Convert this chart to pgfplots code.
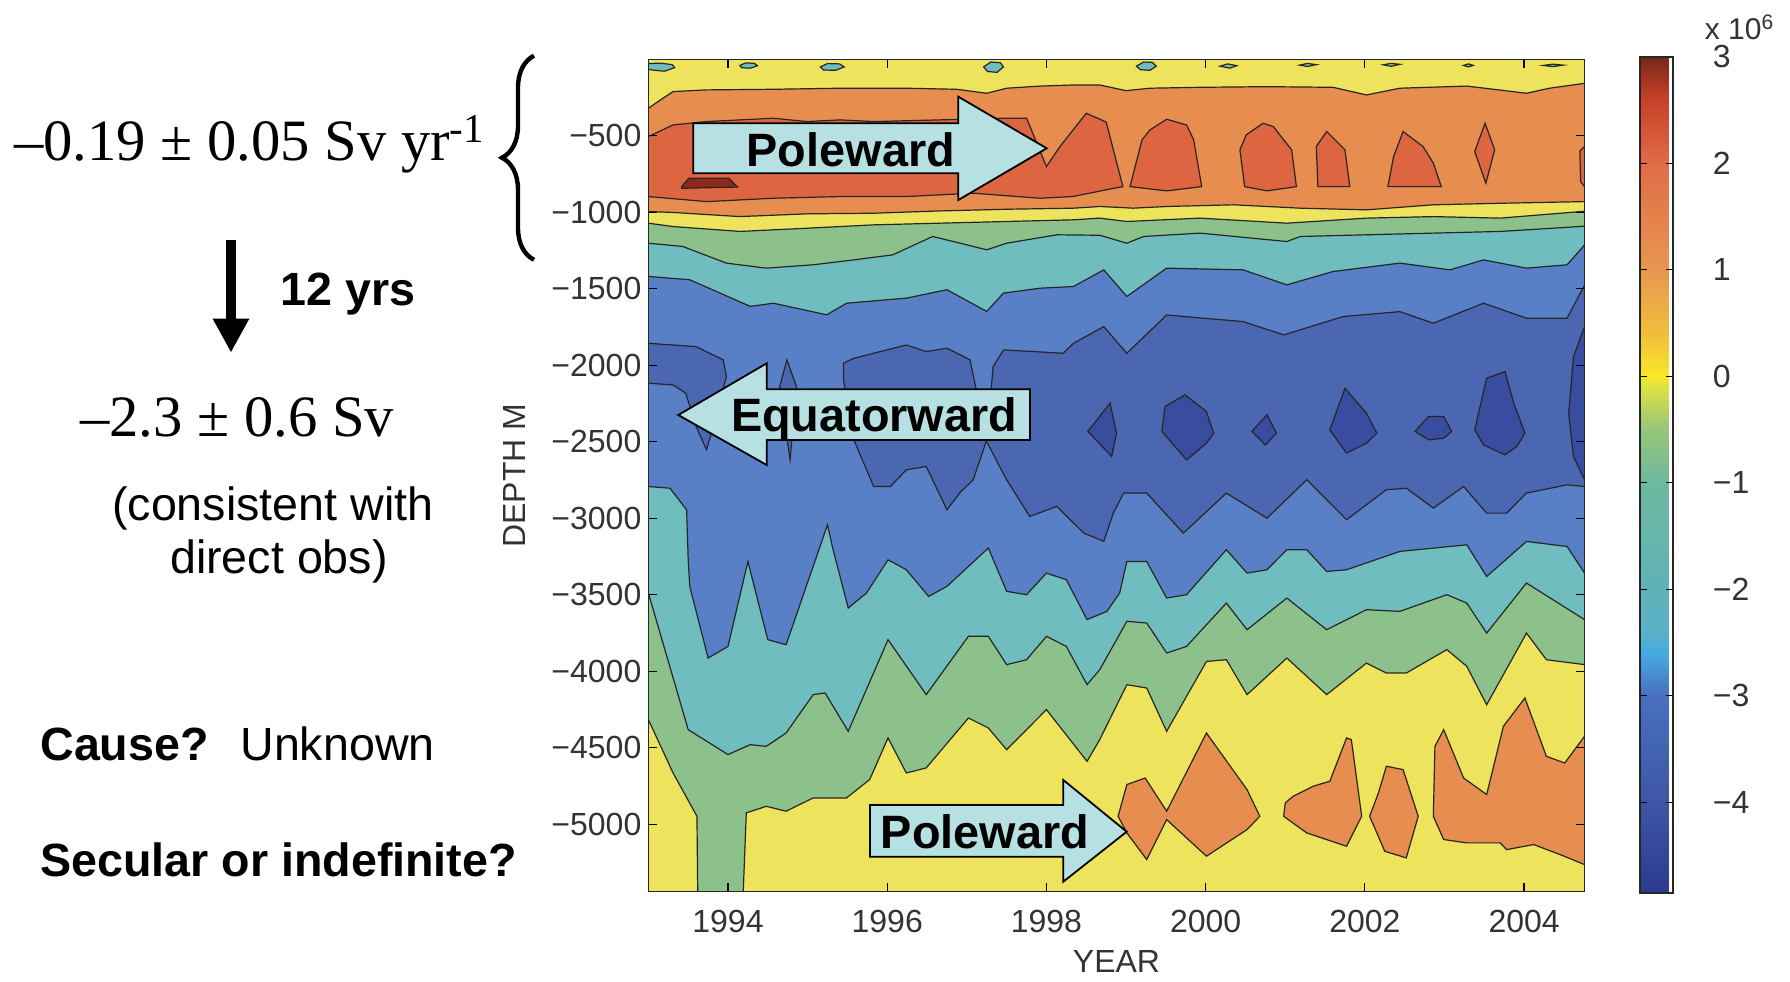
\documentclass[border=0pt]{standalone}
\usepackage{pgfplots}
\pgfplotsset{compat=1.18}
\usepackage{fontspec}
\setmainfont{Liberation Sans}
\newfontfamily\tnr{Liberation Serif}
\usetikzlibrary{decorations.pathreplacing, arrows.meta}

\definecolor{cYel}{RGB}{237,227,92}
\definecolor{cOra}{RGB}{231,141,79}
\definecolor{cRed}{RGB}{221,101,66}
\definecolor{cDRed}{RGB}{139,42,26}
\definecolor{cGrn}{RGB}{141,193,139}
\definecolor{cTeal}{RGB}{111,189,190}
\definecolor{cBlu}{RGB}{89,128,198}
\definecolor{cDBlu}{RGB}{75,103,178}
\definecolor{cDDBlu}{RGB}{56,76,160}
\definecolor{cArr}{RGB}{183,224,227}

\pgfplotsset{band/.style={fill=#1, draw=black!85, line width=0.6pt, mark=none}}

\begin{document}
\begin{tikzpicture}
\useasboundingbox (-324.2pt,-44.65pt) rectangle (570.8pt,445.85pt);
\begin{axis}[
  at={(0pt,0pt)}, anchor=south west,
  scale only axis, width=468.1pt, height=416.2pt,
  xmin=1993, xmax=2004.76, ymin=-5440, ymax=0,
  axis on top,
  xtick={1994,1996,1998,2000,2002,2004},
  xticklabels={1994,1996,1998,2000,2002,2004},
  ytick={-5000,-4500,-4000,-3500,-3000,-2500,-2000,-1500,-1000,-500},
  yticklabels={−5000,−4500,−4000,−3500,−3000,−2500,−2000,−1500,−1000,−500},
  tick align=inside, major tick length=4.5pt,
  every tick/.style={black, line width=0.6pt},
  axis line style={black!85, line width=0.75pt},
  ticklabel style={font=\fontsize{16}{18}\selectfont, text=black!80},
  xticklabel style={yshift=-5.5pt},
  xlabel={YEAR}, ylabel={DEPTH M},
  xlabel style={font=\fontsize{16}{18}\selectfont, text=black!80, at={(axis description cs:0.5,-0.0834)}, anchor=center},
  ylabel style={font=\fontsize{16}{18}\selectfont, text=black!80, at={(axis description cs:-0.1425,0.5)}, anchor=center},
  colorbar,
  colormap={refmap}{rgb255(0pt)=(44,58,140); rgb255(85pt)=(62,86,166); rgb255(185pt)=(72,112,190); rgb255(225pt)=(70,170,225); rgb255(245pt)=(90,178,200); rgb255(285pt)=(96,178,184); rgb255(385pt)=(110,184,160); rgb255(435pt)=(150,198,120); rgb255(475pt)=(220,225,70); rgb255(485pt)=(248,232,40); rgb255(525pt)=(240,190,60); rgb255(585pt)=(232,150,80); rgb255(685pt)=(224,108,72); rgb255(745pt)=(200,64,40); rgb255(785pt)=(120,40,24)},
  point meta min=-4.85, point meta max=3,
  colorbar style={
    at={(parent axis.north east)}, anchor=north west, xshift=19.2pt, yshift=1.2pt,
    width=16.55pt, height=418pt, scale only axis,
    ytick={-4,-3,-2,-1,0,1,2,3}, yticklabels={−4,−3,−2,−1,0,1,2,3},
    tick align=inside, major tick length=3.5pt,
    ytick pos=both, yticklabel pos=right,
    every tick/.style={black, line width=0.6pt},
    axis line style={black!85, line width=0.75pt},
    yticklabel style={font=\fontsize{16}{18}\selectfont, text=black!80, xshift=16.3pt},
  },
]
% top yellow background
\addplot[fill=cYel, draw=none] coordinates {(1992.9,100) (2004.9,100) (2004.9,-5500) (1992.9,-5500)} -- cycle;
% small near-surface patches
\addplot[band=cTeal] coordinates {(1992.9,-30) (1993.15,-25) (1993.3,-35) (1993.33,-55) (1993.2,-78) (1993.05,-70) (1992.9,-55)} -- cycle;
\addplot[band=cTeal] coordinates {(1994.15,-40) (1994.22,-24) (1994.33,-26) (1994.37,-42) (1994.28,-58) (1994.17,-55)} -- cycle;
\addplot[band=cTeal] coordinates {(1995.16,-50) (1995.25,-28) (1995.40,-30) (1995.46,-50) (1995.35,-72) (1995.2,-70)} -- cycle;
\addplot[band=cTeal] coordinates {(1997.21,-50) (1997.3,-18) (1997.42,-22) (1997.46,-50) (1997.38,-85) (1997.26,-80)} -- cycle;
\addplot[band=cTeal] coordinates {(1999.13,-45) (1999.22,-18) (1999.33,-20) (1999.38,-45) (1999.3,-72) (1999.18,-68)} -- cycle;
\addplot[band=cGrn] coordinates {(2000.18,-45) (2000.28,-30) (2000.39,-42) (2000.3,-58)} -- cycle;
\addplot[band=cGrn] coordinates {(2001.18,-38) (2001.28,-27) (2001.39,-35) (2001.28,-47)} -- cycle;
\addplot[band=cGrn] coordinates {(2002.23,-36) (2002.33,-27) (2002.44,-33) (2002.33,-46)} -- cycle;
\addplot[band=cGrn] coordinates {(2003.24,-40) (2003.3,-30) (2003.36,-40) (2003.3,-50)} -- cycle;
\addplot[band=cGrn] coordinates {(2004.24,-40) (2004.36,-32) (2004.49,-38) (2004.36,-48)} -- cycle;
% orange below B1
\addplot[band=cOra] coordinates {(1992.9,-320) (1993.0,-320) (1993.15,-266) (1993.31,-211) (1993.73,-200) (1994.57,-196) (1995.41,-189) (1996.24,-189) (1996.87,-196) (1997.25,-222) (1997.5,-189) (1997.92,-175) (1998.33,-168) (1998.67,-168) (1999.0,-205) (1999.30,-189) (1999.93,-183) (2000.77,-179) (2001.6,-183) (2002.02,-233) (2002.44,-189) (2003.28,-175) (2004.03,-222) (2004.32,-189) (2004.76,-157) (2004.9,-157) (2004.9,-5500) (1992.9,-5500)} -- cycle;
% red band and patches
\addplot[band=cRed] coordinates {(1992.9,-505) (1993.0,-505) (1993.31,-429) (1993.73,-407) (1994.57,-385) (1994.99,-407) (1995.41,-396) (1995.83,-407) (1996.66,-396) (1997.50,-385) (1997.75,-385) (1998.0,-701) (1998.17,-570) (1998.5,-353) (1998.75,-410) (1998.96,-832) (1998.75,-853) (1998.33,-897) (1997.92,-908) (1997.08,-875) (1996.24,-897) (1995.41,-897) (1994.57,-908) (1993.73,-930) (1993.0,-897) (1992.9,-897)} -- cycle;
\addplot[band=cRed] coordinates {(1999.05,-832) (1999.20,-527) (1999.30,-462) (1999.51,-392) (1999.76,-429) (1999.85,-527) (1999.95,-832) (1999.51,-860)} -- cycle;
\addplot[band=cRed] coordinates {(2000.49,-832) (2000.43,-592) (2000.51,-494) (2000.72,-418) (2000.85,-440) (2001.08,-592) (2001.14,-832) (2000.77,-860)} -- cycle;
\addplot[band=cRed] coordinates {(2001.41,-832) (2001.39,-570) (2001.52,-472) (2001.75,-592) (2001.81,-832)} -- cycle;
\addplot[band=cRed] coordinates {(2002.29,-832) (2002.36,-636) (2002.48,-472) (2002.73,-570) (2002.86,-679) (2002.96,-832)} -- cycle;
\addplot[band=cRed] coordinates {(2003.51,-418) (2003.63,-592) (2003.52,-810) (2003.38,-603)} -- cycle;
\addplot[band=cRed] coordinates {(2004.70,-600) (2004.76,-570) (2004.9,-570) (2004.9,-832) (2004.76,-832) (2004.71,-800)} -- cycle;
\addplot[band=cDRed] coordinates {(1993.42,-830) (1993.51,-777) (1994.01,-777) (1994.12,-835) (1993.42,-843)} -- cycle;
% yellow below B2
\addplot[band=cYel] coordinates {(1992.9,-995) (1993.0,-995) (1993.31,-1001) (1994.15,-1028) (1994.99,-1010) (1995.83,-1006) (1996.66,-991) (1997.5,-980) (1998.34,-973) (1998.67,-962) (1999.09,-973) (1999.51,-962) (2000.35,-951) (2001.19,-973) (2002.02,-984) (2002.86,-951) (2003.70,-941) (2004.76,-930) (2004.9,-930) (2004.9,-5500) (1992.9,-5500)} -- cycle;
% green below B3
\addplot[band=cGrn] coordinates {(1992.9,-1071) (1993.0,-1071) (1993.31,-1093) (1994.15,-1125) (1994.99,-1104) (1995.83,-1082) (1996.66,-1071) (1997.50,-1060) (1998.34,-1049) (1998.67,-1038) (1999.01,-1060) (1999.93,-1038) (2001.02,-1071) (2002.02,-1038) (2002.86,-1028) (2003.70,-1038) (2004.76,-993) (2004.9,-993) (2004.9,-5500) (1992.9,-5500)} -- cycle;
% teal below B4
\addplot[band=cTeal] coordinates {(1992.9,-1202) (1993.0,-1202) (1993.43,-1223) (1993.98,-1332) (1994.48,-1365) (1995.07,-1343) (1995.58,-1311) (1996.07,-1278) (1996.57,-1158) (1996.83,-1191) (1997.25,-1245) (1997.5,-1202) (1998.13,-1147) (1998.67,-1150) (1999.01,-1202) (1999.22,-1158) (1999.93,-1136) (2001.02,-1191) (2001.19,-1158) (2002.02,-1147) (2002.86,-1136) (2003.70,-1125) (2004.70,-1093) (2004.76,-1090) (2004.9,-1090) (2004.9,-5500) (1992.9,-5500)} -- cycle;
% blue below B5
\addplot[band=cBlu] coordinates {(1992.9,-1419) (1993.0,-1419) (1993.52,-1441) (1993.90,-1528) (1994.28,-1615) (1994.57,-1594) (1995.24,-1670) (1995.49,-1594) (1996.24,-1561) (1996.75,-1506) (1997.25,-1648) (1997.46,-1528) (1997.92,-1496) (1998.34,-1485) (1998.72,-1376) (1999.01,-1550) (1999.51,-1365) (2000.47,-1376) (2001.02,-1474) (2001.60,-1387) (2002.44,-1332) (2003.07,-1376) (2003.49,-1311) (2004.03,-1365) (2004.54,-1343) (2004.76,-1213) (2004.9,-1213) (2004.9,-5500) (1992.9,-5500)} -- cycle;
% darker blue regions
\addplot[band=cDBlu] coordinates {(1992.9,-1856) (1993.0,-1856) (1993.6,-1878) (1993.94,-1964) (1993.98,-2073) (1993.84,-2356) (1993.73,-2552) (1993.6,-2400) (1993.47,-2182) (1993.31,-2128) (1993.0,-2117) (1992.9,-2117)} -- cycle;
\addplot[band=cDBlu] coordinates {(1994.74,-1964) (1994.86,-2139) (1994.78,-2618) (1994.65,-2139)} -- cycle;
\addplot[band=cDBlu] coordinates {(1995.45,-1986) (1995.58,-1954) (1996.24,-1867) (1996.49,-1910) (1996.75,-1888) (1997.04,-1964) (1997.25,-2487) (1997.08,-2748) (1996.91,-2835) (1996.75,-2944) (1996.49,-2661) (1996.24,-2683) (1996.04,-2792) (1995.83,-2792) (1995.58,-2487) (1995.45,-2095)} -- cycle;
\addplot[band=cDBlu] coordinates {(1997.25,-2500) (1997.33,-2008) (1997.46,-1899) (1998.21,-1921) (1998.34,-1856) (1998.72,-1747) (1999.01,-1921) (1999.51,-1671) (2000.47,-1714) (2000.98,-1801) (2001.73,-1681) (2002.44,-1649) (2002.86,-1725) (2003.49,-1594) (2004.03,-1692) (2004.54,-1692) (2004.76,-1475) (2004.9,-1475) (2004.9,-2792) (2004.76,-2792) (2004.54,-2781) (2004.03,-2835) (2003.78,-2966) (2003.53,-2966) (2003.24,-2792) (2002.86,-2933) (2002.52,-2803) (2002.27,-2813) (2001.77,-3009) (2001.27,-2748) (2000.77,-2999) (2000.26,-2835) (1999.72,-3097) (1999.26,-2835) (1998.97,-2835) (1998.84,-2966) (1998.72,-3150) (1998.47,-3097) (1998.13,-2922) (1997.79,-2988) (1997.50,-2748)} -- cycle;
% darkest blue patches
\addplot[band=cDDBlu] coordinates {(1998.8,-2247) (1998.88,-2443) (1998.82,-2596) (1998.52,-2432)} -- cycle;
\addplot[band=cDDBlu] coordinates {(1999.74,-2193) (2000.01,-2302) (2000.10,-2443) (2000.01,-2509) (1999.76,-2618) (1999.45,-2432) (1999.49,-2269)} -- cycle;
\addplot[band=cDDBlu] coordinates {(2000.77,-2324) (2000.89,-2443) (2000.75,-2520) (2000.58,-2432)} -- cycle;
\addplot[band=cDDBlu] coordinates {(2001.75,-2150) (2002.02,-2313) (2002.15,-2443) (2002.02,-2509) (2001.77,-2574) (2001.56,-2422)} -- cycle;
\addplot[band=cDDBlu] coordinates {(2002.80,-2334) (2002.99,-2334) (2003.09,-2432) (2002.99,-2476) (2002.80,-2487) (2002.63,-2432)} -- cycle;
\addplot[band=cDDBlu] coordinates {(2003.53,-2084) (2003.76,-2041) (2003.87,-2247) (2004.01,-2443) (2003.91,-2530) (2003.76,-2585) (2003.49,-2520) (2003.38,-2422)} -- cycle;
\addplot[band=cDDBlu] coordinates {(2004.9,-1747) (2004.76,-1747) (2004.62,-1943) (2004.56,-2313) (2004.62,-2596) (2004.76,-2748) (2004.9,-2748)} -- cycle;
% teal below B7
\addplot[band=cTeal] coordinates {(1992.9,-2792) (1993.0,-2792) (1993.27,-2803) (1993.48,-2944) (1993.50,-3270) (1993.52,-3445) (1993.75,-3913) (1994.0,-3837) (1994.25,-3282) (1994.50,-3793) (1994.73,-3826) (1995.25,-3042) (1995.31,-3184) (1995.51,-3586) (1995.74,-3488) (1996.01,-3271) (1996.24,-3336) (1996.52,-3510) (1996.75,-3445) (1997.27,-3194) (1997.50,-3477) (1997.75,-3499) (1998.0,-3358) (1998.25,-3401) (1998.51,-3662) (1998.76,-3608) (1998.92,-3488) (1999.01,-3282) (1999.26,-3282) (1999.51,-3521) (1999.76,-3499) (2000.26,-3205) (2000.52,-3358) (2000.77,-3336) (2001.02,-3205) (2001.27,-3205) (2001.52,-3347) (2001.77,-3336) (2002.44,-3216) (2003.28,-3173) (2003.53,-3380) (2004.03,-3151) (2004.54,-3184) (2004.76,-3358) (2004.9,-3358) (2004.9,-5500) (1992.9,-5500)} -- cycle;
% green below B8
\addplot[band=cGrn] coordinates {(1992.9,-3488) (1993.0,-3488) (1993.5,-4381) (1994.0,-4544) (1994.28,-4479) (1994.48,-4490) (1994.73,-4403) (1995.07,-4152) (1995.22,-4141) (1995.51,-4392) (1996.01,-3793) (1996.49,-4152) (1997.02,-3771) (1997.27,-3771) (1997.50,-3956) (1997.75,-3924) (1998.0,-3771) (1998.25,-3837) (1998.51,-4087) (1998.67,-3989) (1999.01,-3673) (1999.26,-3684) (1999.51,-3880) (1999.76,-3837) (2000.26,-3554) (2000.52,-3728) (2001.02,-3521) (2001.52,-3728) (2002.02,-3597) (2002.44,-3608) (2003.03,-3499) (2003.28,-3554) (2003.53,-3750) (2004.03,-3423) (2004.76,-3662) (2004.9,-3662) (2004.9,-5500) (1992.9,-5500)} -- cycle;
% yellow below B9
\addplot[band=cYel] coordinates {(1992.9,-4316) (1993.0,-4316) (1993.31,-4664) (1993.61,-4947) (1993.62,-5460) (1994.19,-5460) (1994.23,-4925) (1994.48,-4882) (1994.73,-4914) (1995.07,-4827) (1995.49,-4827) (1995.78,-4707) (1996.01,-4435) (1996.24,-4664) (1996.49,-4631) (1997.02,-4305) (1997.27,-4370) (1997.50,-4512) (1998.0,-4250) (1998.51,-4588) (1998.67,-4446) (1999.01,-4087) (1999.26,-4109) (1999.51,-4392) (2000.01,-3935) (2000.26,-3924) (2000.52,-4152) (2001.02,-3913) (2001.52,-4152) (2002.02,-3946) (2002.27,-4011) (2002.52,-4011) (2003.03,-3858) (2003.28,-3967) (2003.53,-4218) (2004.03,-3750) (2004.28,-3924) (2004.76,-3956) (2004.9,-3956) (2004.9,-5500) (1992.9,-5500)} -- cycle;
% orange patches near bottom
\addplot[band=cOra] coordinates {(1999.01,-4740) (1999.24,-4697) (1999.51,-4914) (2000.01,-4403) (2000.22,-4555) (2000.52,-4773) (2000.68,-4947) (2000.52,-5034) (2000.01,-5208) (1999.51,-4969) (1999.26,-5230) (1999.01,-5056) (1998.90,-4947)} -- cycle;
\addplot[band=cOra] coordinates {(2001.0,-4860) (2001.10,-4816) (2001.35,-4751) (2001.56,-4718) (2001.77,-4435) (2001.83,-4446) (2001.96,-4947) (2001.77,-5143) (2001.27,-5056) (2000.98,-4947)} -- cycle;
\addplot[band=cOra] coordinates {(2002.27,-4620) (2002.48,-4642) (2002.67,-4947) (2002.52,-5219) (2002.25,-5176) (2002.06,-4947) (2002.17,-4795)} -- cycle;
\addplot[band=cOra] coordinates {(2002.99,-4381) (2003.24,-4697) (2003.53,-4805) (2003.74,-4359) (2004.01,-4174) (2004.28,-4555) (2004.51,-4599) (2004.76,-4424) (2004.9,-4424) (2004.9,-5263) (2004.76,-5263) (2004.45,-5197) (2004.12,-5132) (2003.78,-5165) (2003.70,-5121) (2003.28,-5121) (2002.99,-5099) (2002.86,-4947) (2002.88,-4490)} -- cycle;
\end{axis}

% block arrows over the plot
\draw[fill=cArr, draw=black, line width=0.9pt] (22.45pt,384.2pt) -- (154.95pt,384.2pt) -- (154.95pt,397.5pt) -- (199.15pt,371.7pt) -- (154.95pt,345.85pt) -- (154.95pt,359.2pt) -- (22.45pt,359.2pt) -- cycle;
\node[anchor=base, font=\fontsize{23.4}{26}\selectfont\bfseries] at (101.2pt,362.5pt) {Poleward};
\draw[fill=cArr, draw=black, line width=0.9pt] (14.95pt,238.35pt) -- (59.15pt,264.2pt) -- (59.15pt,251.2pt) -- (190.8pt,251.2pt) -- (190.8pt,225.85pt) -- (59.15pt,225.85pt) -- (59.15pt,213.35pt) -- cycle;
\node[anchor=base, font=\fontsize{23.4}{26}\selectfont\bfseries] at (112.9pt,230pt) {Equatorward};
\draw[fill=cArr, draw=black, line width=0.9pt] (110.8pt,43.35pt) -- (207.45pt,43.35pt) -- (207.45pt,55.85pt) -- (239.15pt,30pt) -- (207.45pt,5pt) -- (207.45pt,17.5pt) -- (110.8pt,17.5pt) -- cycle;
\node[anchor=base, font=\fontsize{23.4}{26}\selectfont\bfseries] at (168.3pt,21.7pt) {Poleward};

% colorbar multiplier
\node[anchor=base west, inner sep=0pt, font=\fontsize{15}{17}\selectfont, text=black!80] at (528pt,426pt) {x 10\textsuperscript{6}};

% left-side annotations
\node[anchor=base west, inner sep=0pt, font=\tnr\fontsize{29.3}{32}\selectfont] at (-317.35pt,365.5pt) {–0.19 ± 0.05 Sv yr\textsuperscript{-1}};
\draw[decorate, decoration={brace, amplitude=16pt}, line width=2.2pt] (-57.2pt,315.95pt) -- (-57.2pt,418pt);
\draw[line width=5.4pt, -{Triangle[length=17pt, width=17pt]}] (-208.7pt,325.85pt) -- (-208.7pt,269.5pt);
\node[anchor=base west, inner sep=0pt, font=\fontsize{23.3}{26}\selectfont\bfseries] at (-184.2pt,293.2pt) {12 yrs};
\node[anchor=base west, inner sep=0pt, font=\tnr\fontsize{29.3}{32}\selectfont] at (-284.2pt,227.65pt) {–2.3 ± 0.6 Sv};
\node[anchor=base, inner sep=0pt, font=\fontsize{23.3}{26}\selectfont] at (-187.8pt,185.75pt) {(consistent with};
\node[anchor=base, inner sep=0pt, font=\fontsize{23.3}{26}\selectfont] at (-184.7pt,159.3pt) {direct obs)};
\node[anchor=base west, inner sep=0pt, font=\fontsize{23.3}{26}\selectfont\bfseries] at (-304.2pt,65.85pt) {Cause?};
\node[anchor=base west, inner sep=0pt, font=\fontsize{23.3}{26}\selectfont] at (-204.2pt,65.85pt) {Unknown};
\node[anchor=base west, inner sep=0pt, font=\fontsize{23.3}{26}\selectfont\bfseries] at (-304.2pt,7.85pt) {Secular or indefinite?};
\end{tikzpicture}
\end{document}
